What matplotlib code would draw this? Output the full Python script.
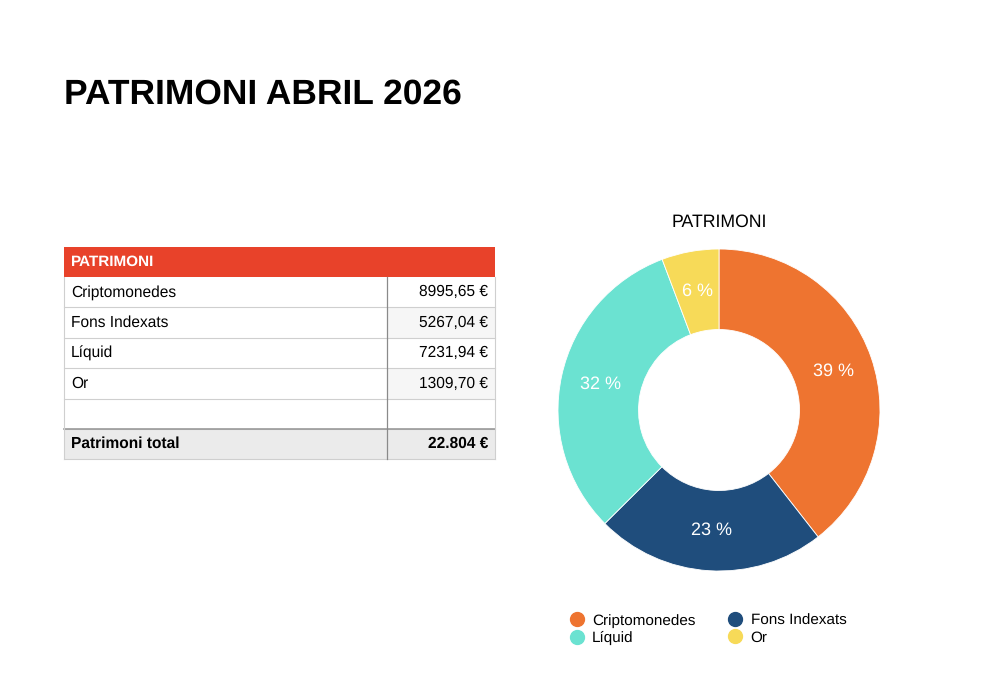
import matplotlib.pyplot as plt
from matplotlib.patches import Rectangle
from matplotlib.lines import Line2D

plt.rcParams["font.family"] = ["Liberation Sans", "DejaVu Sans"]
plt.rcParams["text.hinting"] = "no_hinting"

categories = ["Criptomonedes", "Fons Indexats", "Líquid", "Or"]
values = [8995.65, 5267.04, 7231.94, 1309.70]
colors = ["#EE7430", "#1F4D7C", "#6BE2D1", "#F7DA58"]
total_label = "Patrimoni total"


def fmt_eur(v):
    return f"{v:.2f}".replace(".", ",") + " €"


def fmt_total(v):
    return f"{round(v):,}".replace(",", ".") + " €"


W, H = 987, 696
fig = plt.figure(figsize=(W / 100, H / 100), dpi=100)

# overlay axes in pixel coordinates for title and table
bg = fig.add_axes([0, 0, 1, 1])
bg.set_xlim(0, W)
bg.set_ylim(H, 0)
bg.axis("off")

bg.text(64, 95, "PATRIMONI ABRIL 2026", fontsize=25.5, fontweight="bold",
        va="center", ha="left", color="black")

# table
x0, x1, xs = 64, 495, 387
top, hdr_h, row_h = 247, 30, 30.4
fs = 11.2
bg.add_patch(Rectangle((x0, top), x1 - x0, hdr_h, color="#E8422A", lw=0))
bg.text(x0 + 7, top + hdr_h / 2, "PATRIMONI", color="white", fontsize=11,
        fontweight="bold", va="center")

rows = list(zip(categories, values)) + [("", None)]
y = top + hdr_h
for i, (name, val) in enumerate(rows):
    if i % 2 == 1 and val is not None:
        bg.add_patch(Rectangle((xs, y), x1 - xs, row_h, color="#F6F6F6", lw=0))
    bg.text(x0 + 7, y + row_h / 2, name, fontsize=fs, va="center")
    if val is not None:
        bg.text(x1 - 7, y + row_h / 2, fmt_eur(val), fontsize=fs,
                va="center", ha="right")
    y += row_h
    bg.plot([x0, x1], [y, y], color="#CFCFCF", lw=0.8)

# total row
bg.add_patch(Rectangle((x0, y), x1 - x0, row_h, color="#EBEBEB", lw=0))
bg.plot([x0, x1], [y, y], color="#9A9A9A", lw=1.2)
bg.text(x0 + 7, y + row_h / 2, total_label, fontsize=fs,
        fontweight="bold", va="center")
bg.text(x1 - 7, y + row_h / 2, fmt_total(sum(values)), fontsize=fs,
        fontweight="bold", va="center", ha="right")
bottom = y + row_h
bg.plot([x0, x1], [bottom, bottom], color="#CFCFCF", lw=0.8)
bg.plot([x0, x0], [top + hdr_h, bottom], color="#CFCFCF", lw=0.8)
bg.plot([x1, x1], [top + hdr_h, bottom], color="#CFCFCF", lw=0.8)
bg.plot([xs, xs], [top + hdr_h, bottom], color="#8A8A8A", lw=0.9)

# donut
cx, cy, r = 719, 410, 161
ax = fig.add_axes([(cx - r) / W, (H - cy - r) / H, 2 * r / W, 2 * r / H])
wedges, _, autotexts = ax.pie(
    values, colors=colors, startangle=90, counterclock=False,
    radius=1.0, pctdistance=0.75,
    autopct=lambda p: f"{p:.0f} %",
    wedgeprops=dict(width=0.5, edgecolor="white", linewidth=0.6),
    textprops=dict(color="white", fontsize=13),
)
ax.set_xlim(-1, 1)
ax.set_ylim(-1, 1)
ax.set_aspect("equal")

bg.text(cx, 222, "PATRIMONI", fontsize=12.7, ha="center", va="center")

# legend
order = [0, 2, 1, 3]
handles = [Line2D([], [], marker="o", ls="", markersize=10,
                  markerfacecolor=colors[i], markeredgecolor=colors[i])
           for i in order]
fig.legend(handles, [categories[i] for i in order], ncol=2,
           loc="center left", bbox_to_anchor=(560 / W, 1 - 629.5 / H),
           frameon=False, fontsize=11, handletextpad=0.4,
           columnspacing=2.0, labelspacing=0.2, handlelength=1.2,
           borderpad=0)

fig.savefig("out.png", dpi=100)
